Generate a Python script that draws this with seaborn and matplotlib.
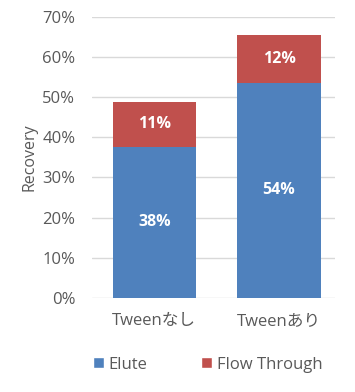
import numpy as np
import pandas as pd
import seaborn as sns
import matplotlib.pyplot as plt
from matplotlib.patches import Patch

# データ
categories = ["Tweenなし", "Tweenあり"]
elute = [0.376, 0.536]
flow_through = [0.112, 0.119]
series_names = ["Elute", "Flow Through"]

blue = "#4F81BD"
red = "#C0504D"
gray = "#595959"

sns.set_style("white")
plt.rcParams['font.family'] = ['Open Sans', 'Noto Sans CJK JP', 'DejaVu Sans']

df = pd.DataFrame({"cat": categories, "Elute": elute, "Flow": flow_through})
df["total"] = df["Elute"] + df["Flow"]

fig = plt.figure(figsize=(3.55, 3.92), dpi=100)
ax = fig.add_axes([0.259, 0.240, 0.685, 0.717])

# 積み上げ: 合計(赤)を先に描いて、その上に Elute(青)
sns.barplot(data=df, x="cat", y="total", color=red, saturation=1, width=0.667, ax=ax,
            zorder=2, linewidth=0)
sns.barplot(data=df, x="cat", y="Elute", color=blue, saturation=1, width=0.667, ax=ax,
            zorder=3, linewidth=0)

for i in range(len(categories)):
    ax.text(i, elute[i] / 2, "{:.0f}%".format(elute[i] * 100), ha="center", va="center",
            color="white", fontsize=11.5, fontweight="bold", zorder=4)
    ax.text(i, elute[i] + flow_through[i] / 2, "{:.0f}%".format(flow_through[i] * 100),
            ha="center", va="center", color="white", fontsize=11.5, fontweight="bold", zorder=4)

ax.set_ylim(0, 0.70)
ax.set_xlim(-0.5, 1.45)
ax.set_yticks(np.arange(0, 0.71, 0.1))
ax.set_yticklabels(["{:.0f}%".format(v * 100) for v in np.arange(0, 0.71, 0.1)])
ax.yaxis.grid(True, color="#D9D9D9", linewidth=1, zorder=0)
ax.set_axisbelow(True)
for s in ax.spines.values():
    s.set_visible(False)
ax.tick_params(axis="both", length=0, colors=gray, labelsize=12)
ax.tick_params(axis="x", pad=11)
ax.tick_params(axis="y", pad=12)
ax.set_xlabel("")
ax.set_ylabel("Recovery", color=gray, fontsize=11.5, labelpad=3)

handles = [Patch(facecolor=blue, label=series_names[0]), Patch(facecolor=red, label=series_names[1])]
fig.legend(handles=handles, loc="center", bbox_to_anchor=(0.585, 0.07), ncol=2, frameon=False,
           fontsize=12, handlelength=0.65, handleheight=0.65, handletextpad=0.3, columnspacing=3.2,
           labelcolor=gray)

fig.savefig("out.png", dpi=100)
